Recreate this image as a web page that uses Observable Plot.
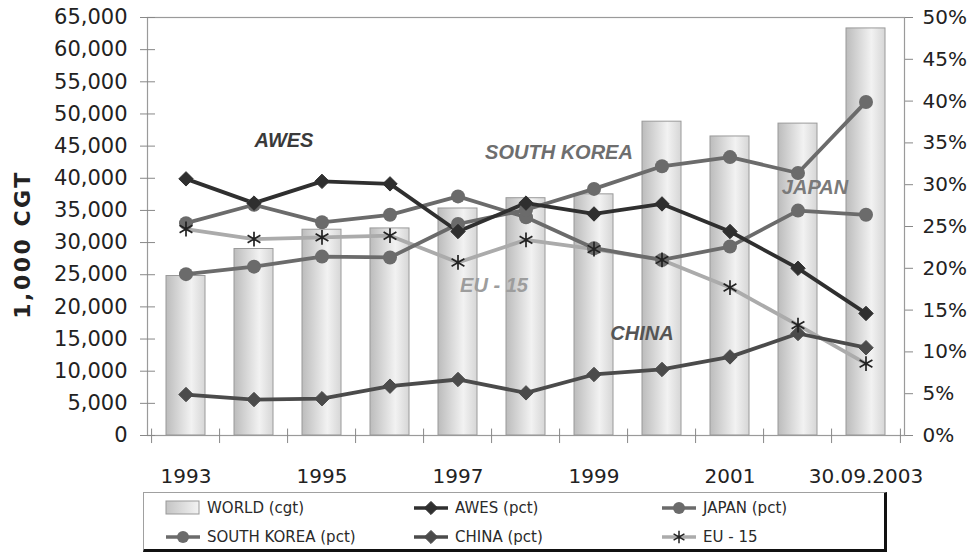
<!DOCTYPE html>
<html>
<head>
<meta charset="utf-8">
<script src="https://cdn.jsdelivr.net/npm/d3@7"></script>
<script src="https://cdn.jsdelivr.net/npm/@observablehq/plot@0.6"></script>
<style>
  html, body { margin: 0; padding: 0; background: #fff; }
  #wrap { position: relative; width: 970px; height: 554px; overflow: hidden; }
  #legend {
    position: absolute; left: 143px; top: 492px; width: 740px; height: 56px;
    border: 1px solid #a0a0a0; border-right: 3px solid #111; border-bottom: 3px solid #111;
    background: #fff; font-family: "DejaVu Sans", sans-serif; font-size: 15px; color: #2a2a2a;
  }
  .item { position: absolute; display: flex; align-items: center; height: 26px; }
  .item svg { margin-right: 6px; }
  .ytitle { letter-spacing: 2.5px; }
</style>
</head>
<body>
<div id="wrap"></div>
<script>
// Categories (order book years) and their tick labels
const years = ["1993", "1994", "1995", "1996", "1997", "1998", "1999", "2000", "2001", "2002", "30.09.2003"];
const yearLabels = ["1993", "", "1995", "", "1997", "", "1999", "", "2001", "", "30.09.2003"];

// World order book, thousand CGT (left axis)
const worldCgt = [24800, 29000, 32000, 32200, 35300, 36900, 37500, 48800, 46500, 48500, 63300];

// Shares of the world order book, percent (right axis)
const awesPct  = [30.7, 27.8, 30.4, 30.1, 24.4, 27.8, 26.5, 27.7, 24.4, 20.0, 14.6];
const japanPct = [25.4, 27.6, 25.5, 26.4, 28.6, 26.1, 22.4, 21.0, 22.6, 26.9, 26.4];
const koreaPct = [19.3, 20.2, 21.4, 21.3, 25.3, 27.0, 29.5, 32.2, 33.3, 31.4, 39.9];
const chinaPct = [4.9, 4.3, 4.4, 5.9, 6.7, 5.1, 7.3, 7.9, 9.4, 12.2, 10.5];
const eu15Pct  = [24.7, 23.5, 23.7, 23.9, 20.7, 23.4, 22.3, 21.0, 17.7, 13.2, 8.6];

// Axis ticks
const leftTicks = d3.range(0, 65001, 5000);
const rightTicks = d3.range(0, 51, 5);

// Layout
const W = 970, H = 490;
const mL = 147, mR = 66, mT = 17, mB = H - 435;
const innerW = W - mL - mR;
const step = innerW / years.length;
const yMax = 65000, pctMax = 50;
const k = yMax / pctMax; // percent -> left-axis units

const world = years.map((year, i) => ({year, value: worldCgt[i]}));
const seriesOf = (name, arr) => years.map((year, i) => ({name, year, pct: arr[i], v: arr[i] * k}));
const awes = seriesOf("AWES", awesPct);
const japan = seriesOf("JAPAN", japanPct);
const korea = seriesOf("SOUTH KOREA", koreaPct);
const china = seriesOf("CHINA", chinaPct);
const eu15 = seriesOf("EU - 15", eu15Pct);

const cAwes = "#2f2f2f", cKorea = "#6b6b6b", cJapan = "#6b6b6b", cChina = "#4b4b4b", cEu = "#ababab";

// In-chart series names
const notes = [
  {text: "AWES", year: "1995", dx: -38, y: 45900, color: "#3a3a3a"},
  {text: "SOUTH KOREA", year: "1998", dx: 33, y: 44000, color: "#6e6e6e"},
  {text: "JAPAN", year: "2002", dx: 17, y: 38600, color: "#7a7a7a"},
  {text: "EU - 15", year: "1997", dx: 36, y: 23300, color: "#9d9d9d"},
  {text: "CHINA", year: "2000", dx: -20, y: 15900, color: "#555"}
];

const lineMark = (data, color) => Plot.line(data, {x: "year", y: "v", stroke: color, strokeWidth: 3.8});
const noteMarks = notes.map(n => Plot.text([n], {x: "year", y: "y", dx: n.dx, text: "text", fill: "color",
  fontSize: 20, fontWeight: "bold", fontStyle: "italic", fontFamily: "Liberation Sans, Arial, sans-serif"}));

const chart = Plot.plot({
  width: W, height: H,
  marginLeft: mL, marginRight: mR, marginTop: mT, marginBottom: mB,
  style: {fontFamily: "DejaVu Sans, sans-serif", color: "#222", background: "#fff"},
  x: {domain: years, paddingInner: 0.42, paddingOuter: 0.21, label: null},
  y: {domain: [0, yMax], label: null},
  marks: [
    Plot.barY(world, {x: "year", y: "value", fill: "url(#barGrad)", stroke: "#9a9a9a", strokeWidth: 1}),
    Plot.frame({stroke: "#9a9a9a", strokeWidth: 1.2}),
    // boundary ticks on the category axis
    Plot.ruleX(years, {x: d => d, dx: -step / 2, y1: -1250, y2: 1000, stroke: "#888"}),
    Plot.ruleX([years[years.length - 1]], {x: d => d, dx: step / 2, y1: -1250, y2: 1000, stroke: "#888"}),
    // inner halves of the value-axis ticks
    Plot.ruleY(leftTicks, {y: d => d, insetRight: innerW - 8, stroke: "#888"}),
    lineMark(eu15, cEu),
    lineMark(china, cChina),
    lineMark(japan, cJapan),
    lineMark(korea, cKorea),
    lineMark(awes, cAwes),
    Plot.dot(china, {x: "year", y: "v", symbol: "diamond2", r: 6.5, fill: cChina, stroke: cChina, strokeWidth: 1}),
    Plot.dot(japan, {x: "year", y: "v", symbol: "circle", r: 7, fill: cJapan}),
    Plot.dot(korea, {x: "year", y: "v", symbol: "circle", r: 7, fill: cKorea}),
    Plot.dot(awes, {x: "year", y: "v", symbol: "diamond2", r: 6.5, fill: cAwes, stroke: cAwes, strokeWidth: 1}),
    Plot.dot(eu15, {x: "year", y: "v", symbol: "asterisk", r: 7, stroke: "#222", strokeWidth: 1.7}),
    ...noteMarks,
    // left axis (thousand CGT)
    Plot.axisY({anchor: "left", ticks: leftTicks, tickFormat: d3.format(","), tickSize: 7, tickPadding: 13,
      fontSize: 21, stroke: "#888", label: null}),
    // right axis (percent share)
    Plot.axisY({anchor: "right", ticks: rightTicks.map(p => p * k), tickFormat: d => Math.round(d / k) + "%",
      tickSize: 8, tickPadding: 10, fontSize: 20, stroke: "#888", label: null}),
    // category labels
    Plot.axisX({ticks: years, tickFormat: d => yearLabels[years.indexOf(d)], tickSize: 0, tickPadding: 33,
      fontSize: 20, label: null}),
    Plot.text(["1,000 CGT"], {frameAnchor: "left", dx: -125, dy: 18, rotate: -90, text: d => d,
      textAnchor: "middle", fontSize: 22, fontWeight: "bold", fill: "#222", className: "ytitle"})
  ]
});

// bar shading
const svgSel = d3.select(chart);
const defs = svgSel.insert("defs", ":first-child");
const grad = defs.append("linearGradient").attr("id", "barGrad").attr("x1", "0").attr("x2", "1").attr("y1", "0").attr("y2", "0");
grad.append("stop").attr("offset", "0%").attr("stop-color", "#bcbcbc");
grad.append("stop").attr("offset", "65%").attr("stop-color", "#f2f2f2");
grad.append("stop").attr("offset", "100%").attr("stop-color", "#d6d6d6");

document.getElementById("wrap").appendChild(chart);

// Legend
const legend = d3.select("#wrap").append("div").attr("id", "legend");
const items = [
  {label: "WORLD (cgt)", kind: "bar", col: 0, row: 0},
  {label: "AWES (pct)", kind: "diamond", color: cAwes, col: 1, row: 0},
  {label: "JAPAN (pct)", kind: "circle", color: cJapan, col: 2, row: 0},
  {label: "SOUTH KOREA (pct)", kind: "circle", color: cKorea, col: 0, row: 1},
  {label: "CHINA (pct)", kind: "diamond", color: cChina, col: 1, row: 1},
  {label: "EU - 15", kind: "star", color: cEu, col: 2, row: 1}
];
const colX = [21, 269, 517];
const rowY = [2, 31];
for (const it of items) {
  const div = legend.append("div").attr("class", "item")
    .style("left", colX[it.col] + "px").style("top", rowY[it.row] + "px");
  const s = div.append("svg").attr("width", 36).attr("height", 20);
  if (it.kind === "bar") {
    const g2 = s.append("defs").append("linearGradient").attr("id", "legGrad");
    g2.append("stop").attr("offset", "0%").attr("stop-color", "#c4c4c4");
    g2.append("stop").attr("offset", "100%").attr("stop-color", "#f3f3f3");
    s.append("rect").attr("x", 1).attr("y", 3).attr("width", 33).attr("height", 13)
      .attr("fill", "url(#legGrad)").attr("stroke", "#999");
  } else {
    s.append("line").attr("x1", 1).attr("x2", 35).attr("y1", 10).attr("y2", 10)
      .attr("stroke", it.color).attr("stroke-width", 3.5);
    if (it.kind === "circle") {
      s.append("circle").attr("cx", 18).attr("cy", 10).attr("r", 6).attr("fill", it.color);
    } else if (it.kind === "diamond") {
      s.append("path").attr("d", d3.symbol(d3.symbolDiamond2, 110)()).attr("transform", "translate(18,10)")
        .attr("fill", it.color).attr("stroke", it.color);
    } else {
      s.append("path").attr("d", d3.symbol(d3.symbolAsterisk, 110)()).attr("transform", "translate(18,10)")
        .attr("fill", "none").attr("stroke", "#222").attr("stroke-width", 1.5);
    }
  }
  div.append("span").text(it.label);
}
</script>
</body>
</html>
